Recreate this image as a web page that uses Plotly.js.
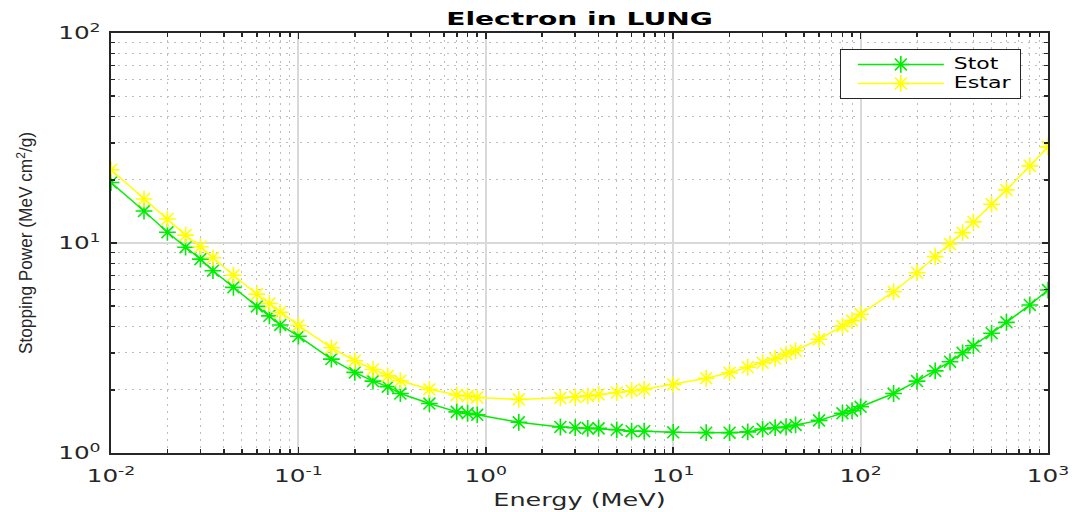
<!DOCTYPE html>
<html>
<head>
<meta charset="utf-8">
<script src="https://cdn.plot.ly/plotly-3.0.1.min.js"></script>
<style>
html,body{margin:0;padding:0;background:#fff;}
#chart{width:1074px;height:512px;}
.legendtext{letter-spacing:6px;}
</style>
</head>
<body>
<div id="chart"></div>
<script>
const energy = [0.01,0.015,0.02,0.025,0.03,0.035,0.045,0.06,0.07,0.08,0.1,0.15,0.2,0.25,0.3,0.35,0.5,0.7,0.8,0.9,1.5,2.5,3,3.5,4,5,6,7,10,15,20,25,30,35,40,45,60,80,90,100,150,200,250,300,350,400,500,600,800,1000];
const stot = [19.4,14.2,11.25,9.55,8.38,7.38,6.15,4.99,4.5,4.07,3.6,2.8,2.42,2.2,2.07,1.92,1.72,1.57,1.545,1.52,1.4,1.33,1.32,1.31,1.31,1.29,1.27,1.27,1.255,1.25,1.25,1.26,1.3,1.32,1.33,1.36,1.43,1.545,1.59,1.66,1.92,2.2,2.46,2.72,3.0,3.24,3.72,4.19,5.07,5.97];
const estar = [22.3,16.2,13.0,10.9,9.6,8.5,7.02,5.71,5.15,4.68,4.05,3.17,2.75,2.5,2.33,2.21,2.01,1.89,1.87,1.84,1.8,1.83,1.85,1.87,1.9,1.94,1.98,2.01,2.12,2.27,2.41,2.56,2.69,2.82,2.96,3.07,3.48,4.02,4.27,4.58,5.86,7.22,8.61,9.89,11.2,12.6,15.3,17.9,23.3,28.7];
const seriesNames = ["Stot", "Estar"];
const xTickVals = [0.01, 0.1, 1, 10, 100, 1000];
const xTickText = ["10<sup>-2</sup>", "10<sup>-1</sup>", "10<sup>0</sup>", "10<sup>1</sup>", "10<sup>2</sup>", "10<sup>3</sup>"];
const yTickVals = [1, 10, 100];
const yTickText = ["10<sup>0</sup>", "10<sup>1</sup>", "10<sup>2</sup>"];
const titleText = "Electron in LUNG";
const xTitle = "Energy (MeV)";
const yTitle = "Stopping Power (MeV cm<sup>2</sup>/g)";

// horizontal glyph stretch of the source rendering (style only)
const stretchStyle = {title: 1.56, xtitle: 1.5, ticks: 1.45, ytitleLength: 222};

const mk = (y, name, color) => ({
  x: energy, y: y, name: name, type: 'scatter', mode: 'lines+markers',
  line: {color: color, width: 1.5},
  marker: {symbol: 'asterisk-open', size: 14, color: color, line: {color: color, width: 1.6}}
});

const wide = 'DejaVu Sans, Verdana, sans-serif';
const axisCommon = {
  type: 'log', showline: true, linecolor: '#262626', linewidth: 2, mirror: 'ticks',
  ticks: 'inside', ticklen: 6, tickwidth: 1.5, tickcolor: '#262626',
  showgrid: true, gridcolor: '#d9d9d9', gridwidth: 2,
  tickmode: 'array', zeroline: false,
  tickfont: {family: wide, size: 17, color: '#262626'},
  minor: {dtick: 'D1', showgrid: true, gridcolor: '#bdbdbd', griddash: '2px,5px', gridwidth: 1,
          ticks: 'inside', ticklen: 4, tickwidth: 1.5, tickcolor: '#262626'}
};

const layout = {
  width: 1074, height: 512,
  margin: {l: 111, r: 26, t: 33, b: 59},
  paper_bgcolor: '#ffffff', plot_bgcolor: '#ffffff',
  title: {text: '<b>' + titleText + '</b>', x: 0.5, xref: 'paper', y: 0.964, yref: 'container', yanchor: 'middle',
          font: {family: wide, size: 18, color: '#000'}},
  xaxis: Object.assign({}, axisCommon, {range: [-2, 3], tickvals: xTickVals, ticktext: xTickText, ticklabelstandoff: 7,
    title: {text: xTitle, standoff: 9, font: {family: wide, size: 17, color: '#262626'}}}),
  yaxis: Object.assign({}, axisCommon, {range: [0, 2], tickvals: yTickVals, ticktext: yTickText, ticklabelstandoff: 5,
    title: {text: yTitle, standoff: 34, font: {family: 'Liberation Sans, Arial, sans-serif', size: 18, color: '#262626'}}}),
  legend: {x: 0.971, xanchor: 'right', y: 0.962, yanchor: 'top', bgcolor: '#ffffff',
           bordercolor: '#262626', borderwidth: 1, itemwidth: 103,
           font: {family: wide, size: 12, color: '#000'}},
  showlegend: true
};

function stretch(nodes, k) {
  nodes.forEach(function (n) {
    const L = n.getComputedTextLength();
    n.setAttribute('textLength', (L * k).toFixed(1));
    n.setAttribute('lengthAdjust', 'spacingAndGlyphs');
  });
}

Plotly.newPlot('chart', [mk(stot, seriesNames[0], '#00ee00'), mk(estar, seriesNames[1], '#ffff00')], layout, {displayModeBar: false, staticPlot: true}).then(function (gd) {
  stretch(gd.querySelectorAll('.gtitle'), stretchStyle.title);
  stretch(gd.querySelectorAll('.xtitle'), stretchStyle.xtitle);
  stretch(gd.querySelectorAll('.xtick text, .ytick text'), stretchStyle.ticks);
  gd.querySelectorAll('.ytitle').forEach(function (n) {
    n.setAttribute('textLength', stretchStyle.ytitleLength);
    n.setAttribute('lengthAdjust', 'spacingAndGlyphs');
  });
  gd.querySelectorAll('.legend .legendtext').forEach(function (n) {
    const L = n.getComputedTextLength();
    n.style.letterSpacing = '0px';
    n.style.fontSize = '16px';
    n.setAttribute('textLength', (L - 4).toFixed(1));
    n.setAttribute('lengthAdjust', 'spacingAndGlyphs');
  });
  gd.querySelectorAll('.legend .legendlines path').forEach(function (p) { p.setAttribute('d', 'M17,0h86'); });
  gd.querySelectorAll('.legend .legendpoints path').forEach(function (p) { p.setAttribute('transform', 'translate(60,0)'); });
});
</script>
</body>
</html>
